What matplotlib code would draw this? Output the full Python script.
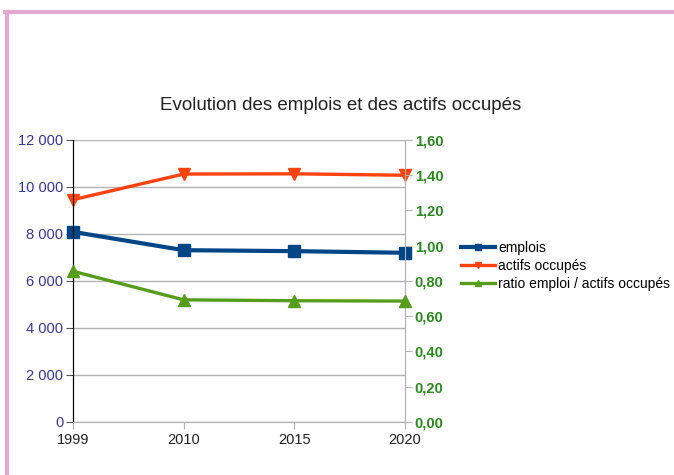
import matplotlib.pyplot as plt
from matplotlib.lines import Line2D

# --- Données ---
annees = ['1999', '2010', '2015', '2020']
emplois = [8090, 7310, 7270, 7200]
actifs = [9460, 10550, 10560, 10500]
ratio = [0.855, 0.693, 0.688, 0.686]

gauche_ticks = [0, 2000, 4000, 6000, 8000, 10000, 12000]
droite_ticks = [0.0, 0.2, 0.4, 0.6, 0.8, 1.0, 1.2, 1.4, 1.6]

plt.rcParams['font.family'] = ['Liberation Sans', 'DejaVu Sans']

fig = plt.figure(figsize=(6.74, 4.75), dpi=100)
ax = fig.add_axes([0.1083, 0.1116, 0.4926, 0.5937])
ax2 = ax.twinx()

x = list(range(len(annees)))

l1, = ax.plot(x, emplois, color='#004586', lw=3, marker='s', ms=8,
              label='emplois', zorder=3, clip_on=False)
l2, = ax.plot(x, actifs, color='#ff420e', lw=2.4, marker='v', ms=8,
              label='actifs occupés', zorder=3, clip_on=False)
l3, = ax2.plot(x, ratio, color='#579d1c', lw=2.4, marker='^', ms=8,
               label='ratio emploi / actifs occupés', zorder=3, clip_on=False)

ax.set_xlim(0, 3)
ax.set_ylim(0, 12000)
ax2.set_ylim(0, 1.6)
ax.set_xticks(x)
ax.set_xticklabels(annees, fontsize=10.5, color='#222222')
ax.set_yticks(gauche_ticks)
ax.set_yticklabels([f"{v:,}".replace(',', ' ') for v in gauche_ticks],
                   fontsize=10.5, color='#36369a')
ax2.set_yticks(droite_ticks)
ax2.set_yticklabels([f"{v:.2f}".replace('.', ',') for v in droite_ticks],
                    fontsize=10.5, color='#2a8a1e', fontweight='bold')

ax.grid(axis='y', color='#b3b3b3', lw=1)
ax.set_axisbelow(True)
for a in (ax, ax2):
    a.spines['top'].set_visible(False)
    a.spines['bottom'].set_color('#b3b3b3')
    a.spines['right'].set_color('#b3b3b3')
    a.spines['left'].set_color('black')
ax.tick_params(axis='x', colors='#b3b3b3', labelcolor='#222222', length=5, pad=3)
ax.tick_params(axis='y', length=5, color='#555555', pad=2)
ax2.tick_params(axis='y', length=5, color='#b3b3b3', pad=2)

fig.text(0.505, 0.778, 'Evolution des emplois et des actifs occupés',
         ha='center', va='center', fontsize=13.5, color='#222222')

fig.legend(handles=[l1, l2, l3], loc='upper left',
           bbox_to_anchor=(0.675, 0.505), frameon=False, fontsize=10,
           markerscale=0.6, handlelength=2.5, handletextpad=0.2,
           labelspacing=0.3, borderaxespad=0)

# cadre rose
fig.add_artist(Line2D([0.01, 0.01], [0, 0.975], transform=fig.transFigure,
                      color='#e2aad2', lw=3))
fig.add_artist(Line2D([0.008, 1.0], [0.975, 0.975], transform=fig.transFigure,
                      color='#e2aad2', lw=3))

plt.savefig('out.png', dpi=100)
